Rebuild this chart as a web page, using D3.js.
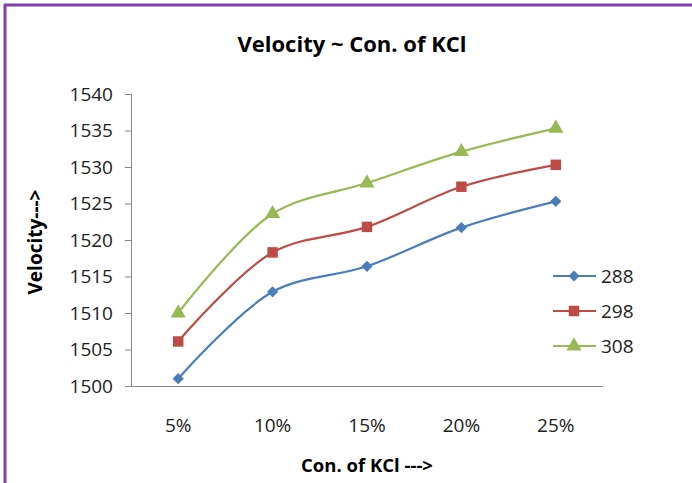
<!DOCTYPE html>
<html>
<head>
<meta charset="utf-8">
<script src="https://cdn.jsdelivr.net/npm/d3@7"></script>
<style>
  body { margin: 0; background: #fff; }
  svg text { font-family: "Open Sans", "Noto Sans", sans-serif; }
</style>
</head>
<body>
<svg id="chart" width="692" height="483"></svg>
<script>
const categories = ["5%", "10%", "15%", "20%", "25%"];
const seriesNames = ["288", "298", "308"];
const v288 = [1501.0, 1512.9, 1516.4, 1521.7, 1525.3];
const v298 = [1506.1, 1518.3, 1521.8, 1527.3, 1530.3];
const v308 = [1510.0, 1523.6, 1527.8, 1532.1, 1535.3];
const yTicks = [1500, 1505, 1510, 1515, 1520, 1525, 1530, 1535, 1540];

const colors = ["#4A7EBB", "#BE4B48", "#98B954"];
const symbols = [d3.symbolDiamond2, d3.symbolSquare, d3.symbolTriangle];
const symSize = [80, 110, 100];

const svg = d3.select("#chart");

// purple frame (top + left visible)
svg.append("line").attr("x1", 4).attr("x2", 692).attr("y1", 5).attr("y2", 5)
  .attr("stroke", "#7F3FB0").attr("stroke-width", 3);
svg.append("line").attr("x1", 5).attr("x2", 5).attr("y1", 4).attr("y2", 483)
  .attr("stroke", "#7F3FB0").attr("stroke-width", 3);

const x = d3.scaleBand().domain(categories).range([131, 603]);
const y = d3.scaleLinear().domain([1500, 1540]).range([386, 94]);

// y axis
const yAxis = svg.append("g").attr("transform", "translate(131,0)")
  .call(d3.axisLeft(y).tickValues(yTicks).tickFormat(d3.format("d")).tickSize(6).tickPadding(12));
yAxis.select(".domain").attr("stroke", "#868686");
yAxis.selectAll(".tick line").attr("stroke", "#868686");
yAxis.selectAll("text").attr("font-size", 19).attr("fill", "#222");

// x axis
const xAxis = svg.append("g").attr("transform", "translate(0,386)")
  .call(d3.axisBottom(x).tickSize(0).tickPadding(33));
xAxis.select(".domain").attr("stroke", "#868686").attr("d", "M125,0.5H603");
xAxis.selectAll("text").attr("font-size", 19).attr("fill", "#222");

const series = [v288, v298, v308];
const line = d3.line()
  .x((d, i) => x(categories[i]) + x.bandwidth() / 2)
  .y(d => y(d))
  .curve(d3.curveCatmullRom.alpha(0.5));

series.forEach((vals, s) => {
  svg.append("path").datum(vals).attr("d", line)
    .attr("fill", "none").attr("stroke", colors[s]).attr("stroke-width", 2.2);
  svg.selectAll(".m" + s).data(vals).enter().append("path")
    .attr("class", "m" + s)
    .attr("transform", (d, i) => `translate(${x(categories[i]) + x.bandwidth() / 2},${y(d)})`)
    .attr("d", d3.symbol().type(symbols[s]).size(symSize[s]))
    .attr("fill", colors[s]);
});

// legend
const legend = svg.append("g");
seriesNames.forEach((name, s) => {
  const ly = 276 + s * 35;
  legend.append("line").attr("x1", 553).attr("x2", 596).attr("y1", ly).attr("y2", ly)
    .attr("stroke", colors[s]).attr("stroke-width", 2.2);
  legend.append("path").attr("transform", `translate(574,${ly})`)
    .attr("d", d3.symbol().type(symbols[s]).size(symSize[s])).attr("fill", colors[s]);
  legend.append("text").attr("x", 601).attr("y", ly).attr("dy", "0.35em")
    .attr("font-size", 19).attr("fill", "#222").text(name);
});

// titles
svg.append("text").attr("x", 352).attr("y", 52).attr("text-anchor", "middle")
  .attr("font-size", 22).attr("font-weight", "bold").text("Velocity ~ Con. of KCl");
svg.append("text").attr("transform", "translate(42,242) rotate(-90)")
  .attr("text-anchor", "middle").attr("font-size", 19).attr("font-weight", "bold")
  .text("Velocity--->");
svg.append("text").attr("x", 367).attr("y", 472).attr("text-anchor", "middle")
  .attr("font-size", 18.5).attr("font-weight", "bold").text("Con. of KCl --->");
</script>
</body>
</html>
